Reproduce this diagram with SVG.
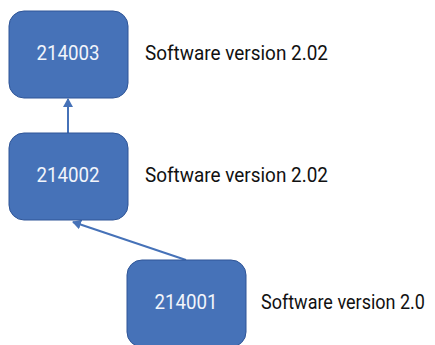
<svg xmlns="http://www.w3.org/2000/svg" width="435" height="345" viewBox="0 0 435 345">
<style>
.box{fill:#4672b8;stroke:#2f5597;stroke-width:1}
.id{font-family:Roboto,"Liberation Sans",sans-serif;font-size:21px;fill:#f2f5fb;text-anchor:middle}
.lbl{font-family:Roboto,"Liberation Sans",sans-serif;font-size:21px;fill:#111}
.conn{stroke:#4672b8;stroke-width:2;fill:none;marker-end:url(#ah)}
</style>
<defs>
<marker id="ah" markerWidth="10" markerHeight="10" refX="8" refY="5" orient="auto" markerUnits="userSpaceOnUse">
<path d="M0,0 L9,5 L0,10 z" fill="#4672b8"/>
</marker>
</defs>
<g id="connectors">
<line class="conn" x1="68" y1="133" x2="68" y2="99"/>
<line class="conn" x1="186" y1="260" x2="73" y2="222"/>
</g>
<g id="n214003">
<rect class="box" x="9" y="11" width="119" height="87" rx="15"/>
<text class="id" transform="translate(68,60) scale(0.88,1)" textLength="71.6" lengthAdjust="spacingAndGlyphs">214003</text>
<text class="lbl" transform="translate(145,60) scale(0.87,1)" textLength="210.3" lengthAdjust="spacingAndGlyphs">Software version 2.02</text>
</g>
<g id="n214002">
<rect class="box" x="9" y="133" width="119" height="87" rx="15"/>
<text class="id" transform="translate(68,182) scale(0.88,1)" textLength="71.6" lengthAdjust="spacingAndGlyphs">214002</text>
<text class="lbl" transform="translate(145,182) scale(0.87,1)" textLength="210.3" lengthAdjust="spacingAndGlyphs">Software version 2.02</text>
</g>
<g id="n214001">
<rect class="box" x="127" y="260" width="119" height="87" rx="15"/>
<text class="id" transform="translate(186,309) scale(0.88,1)" textLength="71.6" lengthAdjust="spacingAndGlyphs">214001</text>
<text class="lbl" transform="translate(261,309) scale(0.87,1)" textLength="188.5" lengthAdjust="spacingAndGlyphs">Software version 2.0</text>
</g>
</svg>
